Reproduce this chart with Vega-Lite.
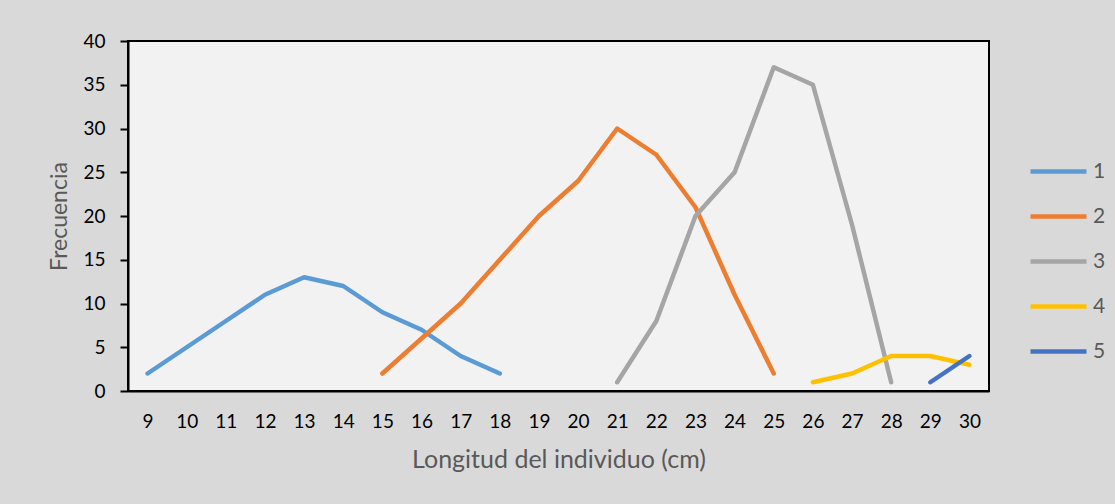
{
  "$schema": "https://vega.github.io/schema/vega-lite/v6.json",
  "width": 861,
  "height": 350,
  "autosize": {"type": "none"},
  "padding": {"left": 128, "top": 41, "right": 126, "bottom": 113},
  "background": "#d9d9d9",
  "config": {
    "font": "Lato",
    "view": {"fill": "#f2f2f2", "stroke": "#000000", "strokeWidth": 2}
  },
  "data": {
    "values": [
      {"longitud": 9, "frecuencia": 2, "grupo": "1"},
      {"longitud": 10, "frecuencia": 5, "grupo": "1"},
      {"longitud": 11, "frecuencia": 8, "grupo": "1"},
      {"longitud": 12, "frecuencia": 11, "grupo": "1"},
      {"longitud": 13, "frecuencia": 13, "grupo": "1"},
      {"longitud": 14, "frecuencia": 12, "grupo": "1"},
      {"longitud": 15, "frecuencia": 9, "grupo": "1"},
      {"longitud": 16, "frecuencia": 7, "grupo": "1"},
      {"longitud": 17, "frecuencia": 4, "grupo": "1"},
      {"longitud": 18, "frecuencia": 2, "grupo": "1"},
      {"longitud": 15, "frecuencia": 2, "grupo": "2"},
      {"longitud": 16, "frecuencia": 6, "grupo": "2"},
      {"longitud": 17, "frecuencia": 10, "grupo": "2"},
      {"longitud": 18, "frecuencia": 15, "grupo": "2"},
      {"longitud": 19, "frecuencia": 20, "grupo": "2"},
      {"longitud": 20, "frecuencia": 24, "grupo": "2"},
      {"longitud": 21, "frecuencia": 30, "grupo": "2"},
      {"longitud": 22, "frecuencia": 27, "grupo": "2"},
      {"longitud": 23, "frecuencia": 21, "grupo": "2"},
      {"longitud": 24, "frecuencia": 11, "grupo": "2"},
      {"longitud": 25, "frecuencia": 2, "grupo": "2"},
      {"longitud": 21, "frecuencia": 1, "grupo": "3"},
      {"longitud": 22, "frecuencia": 8, "grupo": "3"},
      {"longitud": 23, "frecuencia": 20, "grupo": "3"},
      {"longitud": 24, "frecuencia": 25, "grupo": "3"},
      {"longitud": 25, "frecuencia": 37, "grupo": "3"},
      {"longitud": 26, "frecuencia": 35, "grupo": "3"},
      {"longitud": 27, "frecuencia": 19, "grupo": "3"},
      {"longitud": 28, "frecuencia": 1, "grupo": "3"},
      {"longitud": 26, "frecuencia": 1, "grupo": "4"},
      {"longitud": 27, "frecuencia": 2, "grupo": "4"},
      {"longitud": 28, "frecuencia": 4, "grupo": "4"},
      {"longitud": 29, "frecuencia": 4, "grupo": "4"},
      {"longitud": 30, "frecuencia": 3, "grupo": "4"},
      {"longitud": 29, "frecuencia": 1, "grupo": "5"},
      {"longitud": 30, "frecuencia": 4, "grupo": "5"}
    ]
  },
  "mark": {"type": "line", "strokeWidth": 4.5, "strokeCap": "round", "strokeJoin": "round"},
  "encoding": {
    "x": {
      "field": "longitud",
      "type": "ordinal",
      "scale": {"domain": [9,10,11,12,13,14,15,16,17,18,19,20,21,22,23,24,25,26,27,28,29,30], "padding": 0.5},
      "axis": {
        "title": "Longitud del individuo (cm)",
        "labelAngle": 0,
        "ticks": false,
        "labelPadding": 21,
        "labelFontSize": 19,
        "labelColor": "#000000",
        "domainColor": "#000000",
        "domainWidth": 2,
        "titleFontSize": 25,
        "titleFontWeight": "normal",
        "titleColor": "#595959",
        "titlePadding": 16
      }
    },
    "y": {
      "field": "frecuencia",
      "type": "quantitative",
      "scale": {"domain": [0, 40], "nice": false},
      "axis": {
        "title": "Frecuencia",
        "values": [0,5,10,15,20,25,30,35,40],
        "grid": false,
        "tickSize": 8,
        "tickColor": "#000000",
        "tickWidth": 2,
        "labelPadding": 15,
        "labelFontSize": 19,
        "labelColor": "#000000",
        "domainColor": "#000000",
        "domainWidth": 2,
        "titleFontSize": 23,
        "titleFontWeight": "normal",
        "titleColor": "#595959",
        "titlePadding": 11
      }
    },
    "color": {
      "field": "grupo",
      "type": "nominal",
      "scale": {"domain": ["1","2","3","4","5"], "range": ["#5b9bd5","#ed7d31","#a5a5a5","#ffc000","#4472c4"]},
      "legend": {
        "title": null,
        "orient": "none",
        "legendX": 900,
        "legendY": 108,
        "symbolType": "stroke",
        "symbolSize": 3136,
        "symbolStrokeWidth": 4.5,
        "clipHeight": 45,
        "rowPadding": 0,
        "labelOffset": 4,
        "labelFontSize": 21,
        "labelColor": "#595959",
        "padding": 0
      }
    }
  }
}
